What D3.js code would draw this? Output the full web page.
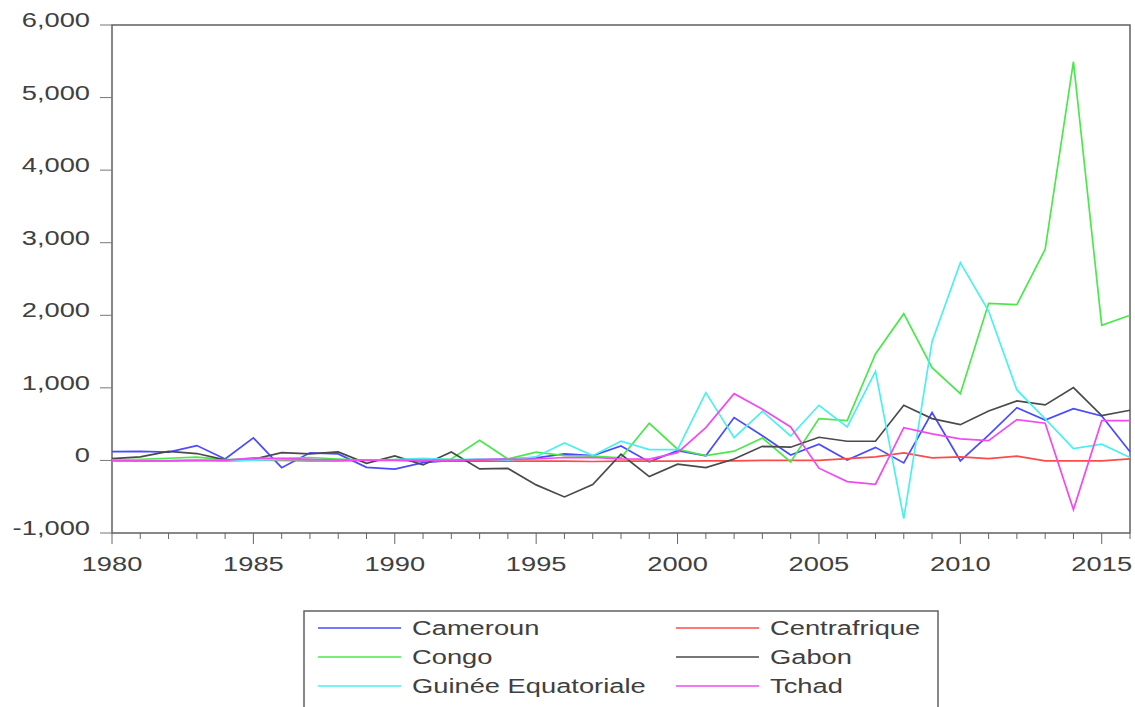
<!DOCTYPE html>
<html>
<head>
<meta charset="utf-8">
<script src="https://cdn.jsdelivr.net/npm/d3@7"></script>
<style>
  body { margin: 0; background: #fff; }
  text { font-family: "Liberation Sans", Arial, sans-serif; fill: #404040; }
</style>
</head>
<body>
<div id="chart"></div>
<script>
var years = d3.range(1980, 2017);

var cameroun = [120,125,115,205,20,310,-100,105,90,-95,
  -120,-30,0,10,20,35,90,65,200,-20,
  135,65,590,340,75,223,5,180,-35,660,
  -5,350,727,557,713,613,120];
var centrafrique = [0,-5,-5,0,-5,5,0,-5,-5,0,
  0,-10,-10,-5,-10,-10,-10,-15,-10,-10,
  -10,-5,-5,0,0,0,25,48,103,35,
  48,25,58,-5,-5,-5,22];
var congo = [5,15,30,45,10,10,30,40,20,5,
  10,15,20,278,20,115,65,60,35,512,
  155,65,127,310,-20,576,548,1467,2022,1278,
  920,2165,2146,2909,5494,1862,2000];
var gabon = [25,48,125,95,7,15,108,90,117,-40,
  62,-62,117,-117,-110,-337,-503,-333,85,-223,
  -52,-99,20,195,182,319,264,264,760,576,
  493,682,820,765,1003,617,691];
var guinee = [0,0,0,0,0,5,10,10,5,5,
  10,30,10,20,5,52,240,66,264,149,
  149,934,314,677,337,760,461,1228,-801,1637,
  2725,2059,971,572,163,223,39];
var tchad = [-5,-5,-5,0,0,35,25,15,5,5,
  5,0,5,10,15,20,40,40,20,17,
  107,452,920,705,461,-107,-292,-328,452,365,
  296,273,562,512,-678,548,548];

var seriesNames = ["Cameroun", "Centrafrique", "Congo", "Gabon", "Guinée Equatoriale", "Tchad"];
var seriesValues = [cameroun, centrafrique, congo, gabon, guinee, tchad];
var seriesColors = ["#4a4aff", "#ff4a4a", "#4ae84a", "#4a4a4a", "#4af0f0", "#f04af0"];
var yTicks = [-1000, 0, 1000, 2000, 3000, 4000, 5000, 6000];
var xMajor = [1980, 1985, 1990, 1995, 2000, 2005, 2010, 2015];

var svgWidth = 1135, svgHeight = 707;
var margin = {top: 25, left: 112};
var width = 1018, height = 508;
var stretch = 1.3;

var svg = d3.select("#chart").append("svg")
    .attr("width", svgWidth)
    .attr("height", svgHeight);

var g = svg.append("g")
    .attr("transform", `translate(${margin.left}, ${margin.top})`);

var x = d3.scaleLinear().domain([1980, 2016]).range([0, width]);
var y = d3.scaleLinear().domain([-1000, 6000]).range([height, 0]);

// frame
g.append("rect")
    .attr("width", width).attr("height", height)
    .attr("fill", "none").attr("stroke", "#606060").attr("stroke-width", 1.5);

// y ticks
g.selectAll(".ytick").data(yTicks).enter().append("line")
    .attr("x1", -12).attr("x2", 0)
    .attr("y1", d => y(d)).attr("y2", d => y(d))
    .attr("stroke", "#777").attr("stroke-width", 1);

g.selectAll(".ylab").data(yTicks).enter().append("text")
    .attr("transform", d => `translate(-22, ${y(d) + 2}) scale(${stretch},1)`)
    .attr("text-anchor", "end")
    .style("font-size", "21px")
    .text(d => d3.format(",")(d).replace("\u2212", "-"));

// x ticks: minor every year, major every 5
g.selectAll(".xtick").data(years).enter().append("line")
    .attr("x1", d => x(d)).attr("x2", d => x(d))
    .attr("y1", height).attr("y2", d => height + (d % 5 === 0 ? 11 : 6))
    .attr("stroke", "#666").attr("stroke-width", 1);

g.selectAll(".xlab").data(xMajor).enter().append("text")
    .attr("transform", d => `translate(${x(d)}, ${height + 38}) scale(${stretch},1)`)
    .attr("text-anchor", "middle")
    .style("font-size", "21px")
    .text(d => d);

// lines
var line = d3.line()
    .x((d, i) => x(years[i]))
    .y(d => y(d));

g.selectAll(".series").data(seriesValues).enter().append("path")
    .attr("d", d => line(d))
    .attr("fill", "none")
    .attr("stroke", (d, i) => seriesColors[i])
    .attr("stroke-width", 1.7)
    .attr("stroke-linejoin", "miter");

// legend
var legend = svg.append("g").attr("transform", "translate(304, 611)");
legend.append("rect")
    .attr("width", 634).attr("height", 130)
    .attr("fill", "none").attr("stroke", "#606060").attr("stroke-width", 1.5);

var items = legend.selectAll(".item").data(seriesNames).enter().append("g")
    .attr("transform", (d, i) => `translate(${i % 2 === 0 ? 14 : 372}, ${17 + Math.floor(i / 2) * 29})`);

items.append("line")
    .attr("x1", 0).attr("x2", 83)
    .attr("stroke", (d, i) => seriesColors[i]).attr("stroke-width", 1.5);

items.append("text")
    .attr("transform", `translate(94, 7) scale(${stretch},1)`)
    .style("font-size", "21px")
    .text(d => d);
</script>
</body>
</html>
